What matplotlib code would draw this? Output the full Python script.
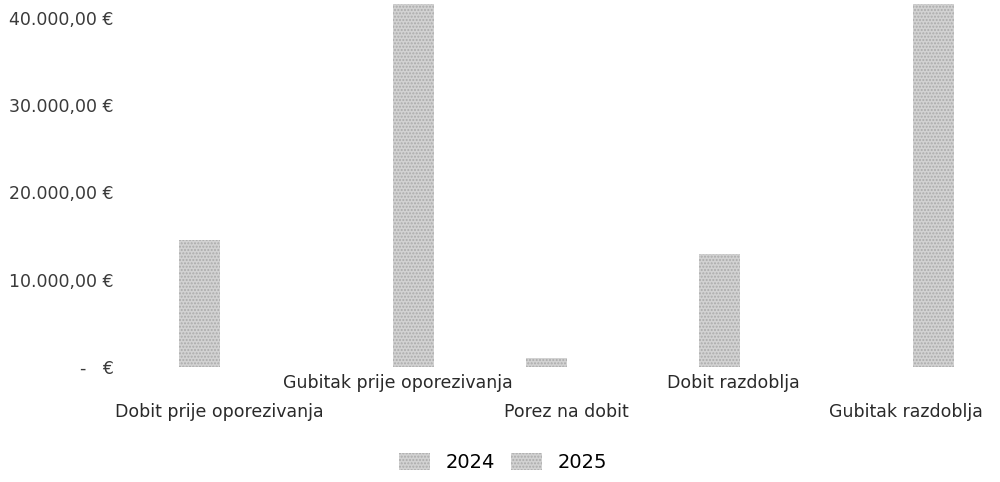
import numpy as np
import matplotlib.pyplot as plt
from matplotlib.ticker import FuncFormatter

# chart data
categories = ['Dobit prije oporezivanja', 'Gubitak prije oporezivanja',
              'Porez na dobit', 'Dobit razdoblja', 'Gubitak razdoblja']
years = ['2024', '2025']
values_2024 = [14500, 0, 1000, 13000, 0]
values_2025 = [0, 45000, 0, 0, 45000]
y_ticks = [0, 10000, 20000, 30000, 40000]

plt.rcParams['font.family'] = ['DejaVu Sans']

fig = plt.figure(figsize=(10, 4.82), dpi=100)
ax = fig.add_axes([0.133, 0.2386, 0.867, 0.753])

x = np.arange(len(categories))
w = 0.235
bar_style = dict(width=w, color='#d2d2d2', edgecolor='#ababab', hatch='.....', linewidth=0)
b1 = ax.bar(x - w / 2, values_2024, label=years[0], **bar_style)
b2 = ax.bar(x + w / 2, values_2025, label=years[1], **bar_style)

ax.set_xlim(-0.5, len(categories) - 0.5)
ax.set_ylim(0, 41580)
ax.set_yticks(y_ticks)


def eur(v, pos):
    if v == 0:
        return '-   €'
    return f'{v:,.2f}'.replace(',', 'X').replace('.', ',').replace('X', '.') + ' €'


ax.yaxis.set_major_formatter(FuncFormatter(eur))
ax.tick_params(axis='y', length=0, pad=14, labelsize=12.5, labelcolor='#3a3a3a')
ax.tick_params(axis='x', length=0, bottom=False, labelbottom=False)
for s in ax.spines.values():
    s.set_visible(False)

# staggered category labels (small shifts to match the original placement)
shifts = [0.0, 0.03, 0.0, -0.04, -0.04]
for i, name in enumerate(categories):
    ypos = -0.045 if i % 2 else -0.125
    ax.text(i + shifts[i], ypos, name, transform=ax.get_xaxis_transform(),
            ha='center', va='center', fontsize=12.5, color='#2a2a2a')

fig.legend(handles=[b1, b2], labels=years, loc='center', bbox_to_anchor=(0.503, 0.04),
           ncol=2, frameon=False, fontsize=14, handlelength=1.6, handleheight=0.9,
           columnspacing=0.8, handletextpad=0.8)

fig.savefig('out.png', dpi=100)
